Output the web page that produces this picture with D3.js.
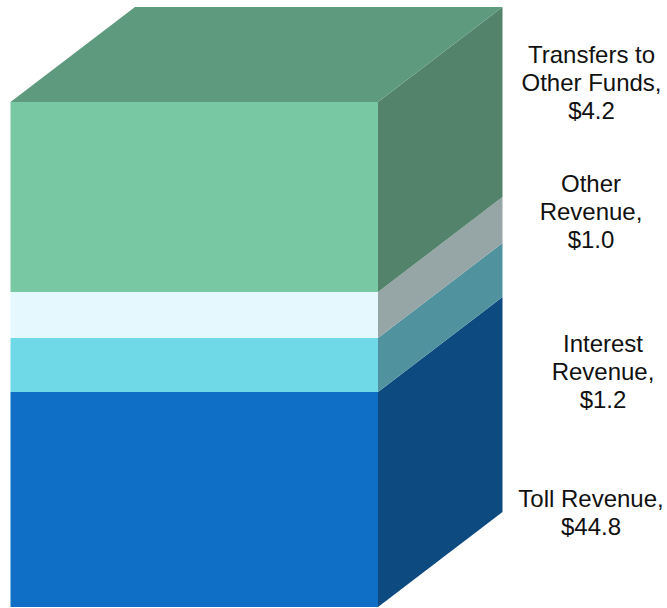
<!DOCTYPE html>
<html>
<head>
<meta charset="utf-8">
<script src="https://cdn.jsdelivr.net/npm/d3@7"></script>
<style>html,body{margin:0;padding:0;background:#fff}svg{display:block}</style>
</head>
<body>
<svg id="c" width="667" height="608"></svg>
<script>
// Stacked bottom to top
const categories = ["Toll Revenue", "Interest Revenue", "Other Revenue", "Transfers to Other Funds"];
const values = [44.8, 1.2, 1.0, 4.2];
const labelLines = [["Toll Revenue,", "$44.8"], ["Interest", "Revenue,", "$1.2"], ["Other", "Revenue,", "$1.0"], ["Transfers to", "Other Funds,", "$4.2"]];
const frontColors = ["#0f6ec5", "#70d9e8", "#e4f8fe", "#78c8a4"];
const sideColors = ["#0c4a80", "#51929f", "#96a5a6", "#53836a"];
const topColor = "#5e9a7e";
const labelX = [591, 603, 591, 591.5];
const labelY = [507, 352, 192, 63];

const svg = d3.select("#c");
const cum = d3.cumsum(values);
// The source block has a broken scale: the largest band is truncated
const y = d3.scaleLinear().domain([0, ...cum]).range([607, 392, 338, 292, 102]);
const x = d3.scaleLinear().domain([0, 1]).range([10.5, 378]);
const depthX = 124.5, depthY = 95;
const line = d3.line();
const bands = values.map((v, i) => ({y0: y(i ? cum[i - 1] : 0), y1: y(cum[i]), i}));

svg.selectAll("path.side").data(bands).join("path").attr("class", "side")
  .attr("fill", d => sideColors[d.i])
  .attr("d", d => line([[x(1), d.y0], [x(1) + depthX, d.y0 - depthY], [x(1) + depthX, d.y1 - depthY], [x(1), d.y1]]) + "Z");

svg.selectAll("rect.front").data(bands).join("rect").attr("class", "front")
  .attr("x", x(0)).attr("width", x(1) - x(0))
  .attr("y", d => d.y1).attr("height", d => d.y0 - d.y1)
  .attr("fill", d => frontColors[d.i]);

const topY = y(cum[cum.length - 1]);
svg.append("path").attr("fill", topColor)
  .attr("d", line([[x(0), topY], [x(0) + depthX, topY - depthY], [x(1) + depthX, topY - depthY], [x(1), topY]]) + "Z");

categories.forEach((c, i) => {
  const t = svg.append("text").attr("text-anchor", "middle")
    .attr("font-family", "Liberation Sans, Arial, sans-serif")
    .attr("font-size", 24).attr("fill", "#111");
  t.selectAll("tspan").data(labelLines[i]).join("tspan")
    .attr("x", labelX[i]).attr("y", (d, k) => labelY[i] + k * 28)
    .text(d => d);
});
</script>
</body>
</html>
